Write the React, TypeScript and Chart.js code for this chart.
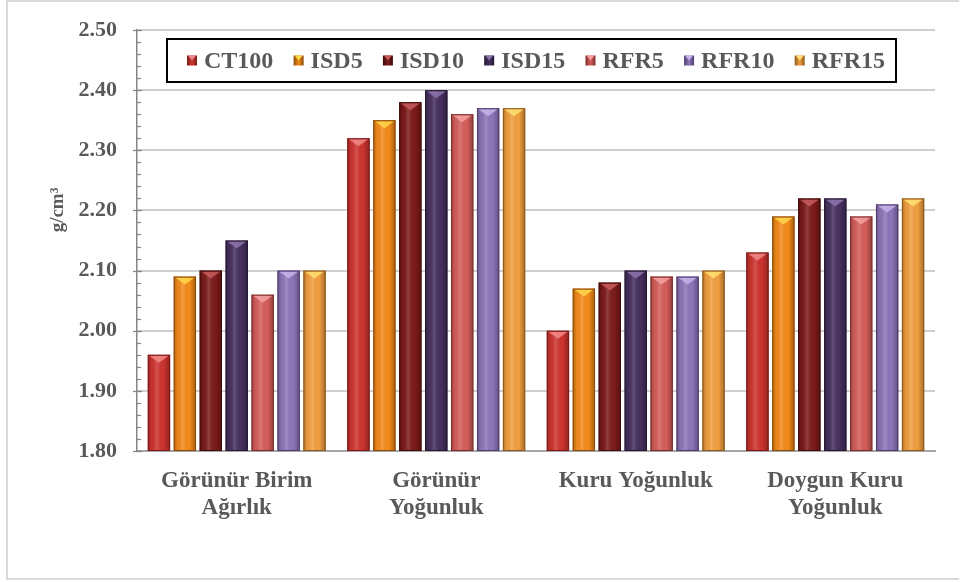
import React, { useEffect, useRef } from "react";
import { Chart, registerables } from "chart.js";

Chart.register(...registerables);

// Category labels (multi-line)
const categories: string[][] = [
  ["Görünür Birim", "Ağırlık"],
  ["Görünür", "Yoğunluk"],
  ["Kuru Yoğunluk"],
  ["Doygun Kuru", "Yoğunluk"],
];

const seriesNames = ["CT100", "ISD5", "ISD10", "ISD15", "RFR5", "RFR10", "RFR15"];

// Density values, g/cm³
const ct100 = [1.96, 2.32, 2.0, 2.13];
const isd5 = [2.09, 2.35, 2.07, 2.19];
const isd10 = [2.1, 2.38, 2.08, 2.22];
const isd15 = [2.15, 2.4, 2.1, 2.22];
const rfr5 = [2.06, 2.36, 2.09, 2.19];
const rfr10 = [2.1, 2.37, 2.09, 2.21];
const rfr15 = [2.1, 2.37, 2.1, 2.22];

const seriesValues = [ct100, isd5, isd10, isd15, rfr5, rfr10, rfr15];

const yMin = 1.8;
const yMax = 2.5;
const yStep = 0.1;
const yMinorStep = 0.02;
const yAxisTitle = "g/cm³";

// Bar fills, bevel highlights and edge colours
const barColors = ["#cf342f", "#f58c1a", "#7d1b1b", "#47305f", "#d65e5b", "#8f75ba", "#f4a040"];
const topColors = ["#f08a8a", "#ffd84a", "#c85a5a", "#8d74ad", "#f6a0a0", "#c9b3ea", "#ffe070"];
const edgeColors = ["#7a1a18", "#8a4a0a", "#3e0c0c", "#241832", "#7d2e2c", "#4e3d6e", "#8a5a1e"];

const textColor = "#595959";
const fontFamily = "'Liberation Serif', 'Times New Roman', serif";

const bevelPlugin = {
  id: "bevel",
  afterDatasetsDraw(chart: any) {
    const ctx = chart.ctx as CanvasRenderingContext2D;
    const bottom = chart.chartArea.bottom;
    chart.data.datasets.forEach((_ds: any, di: number) => {
      const meta = chart.getDatasetMeta(di);
      meta.data.forEach((bar: any) => {
        const x = bar.x;
        const y = bar.y;
        const width = bar.width;
        const base = Math.min(bar.base, bottom);
        const left = x - width / 2;
        const right = x + width / 2;
        const h = base - y;
        if (h <= 0) return;
        ctx.save();
        // cylindrical shading across the bar
        const g = ctx.createLinearGradient(left, 0, right, 0);
        g.addColorStop(0, "rgba(0,0,0,0.28)");
        g.addColorStop(0.18, "rgba(0,0,0,0.04)");
        g.addColorStop(0.4, "rgba(255,255,255,0.16)");
        g.addColorStop(0.7, "rgba(0,0,0,0.0)");
        g.addColorStop(1, "rgba(0,0,0,0.32)");
        ctx.fillStyle = g;
        ctx.fillRect(left, y, width, h);
        // bevelled top
        const tri = Math.min(8, h);
        ctx.beginPath();
        ctx.moveTo(left + 1.5, y + 1);
        ctx.lineTo(right - 1.5, y + 1);
        ctx.lineTo(x, y + tri);
        ctx.closePath();
        ctx.fillStyle = topColors[di];
        ctx.globalAlpha = 0.85;
        ctx.fill();
        ctx.globalAlpha = 1;
        // outline
        ctx.strokeStyle = edgeColors[di];
        ctx.lineWidth = 1;
        ctx.strokeRect(left + 0.5, y + 0.5, width - 1, h - 1);
        ctx.restore();
      });
    });
  },
};

const decorPlugin = {
  id: "decor",
  afterDraw(chart: any) {
    const ctx = chart.ctx as CanvasRenderingContext2D;
    const yScale = chart.scales.y;
    const axisX = chart.chartArea.left;
    ctx.save();
    // minor ticks inside the value axis
    ctx.strokeStyle = "#868686";
    ctx.lineWidth = 1.2;
    const n = Math.round((yMax - yMin) / yMinorStep);
    for (let i = 0; i <= n; i++) {
      const v = yMin + i * yMinorStep;
      const py = Math.round(yScale.getPixelForValue(v)) + 0.5;
      ctx.beginPath();
      ctx.moveTo(axisX, py);
      ctx.lineTo(axisX + 4, py);
      ctx.stroke();
    }
    // major ticks cross the axis
    const m = Math.round((yMax - yMin) / yStep);
    for (let i = 0; i <= m; i++) {
      const v = yMin + i * yStep;
      const py = Math.round(yScale.getPixelForValue(v)) + 0.5;
      ctx.beginPath();
      ctx.moveTo(axisX - 4, py);
      ctx.lineTo(axisX + 5, py);
      ctx.stroke();
    }

    // value axis title
    ctx.save();
    ctx.translate(58, 210);
    ctx.rotate(-Math.PI / 2);
    ctx.font = `bold 19px ${fontFamily}`;
    ctx.fillStyle = textColor;
    ctx.textAlign = "center";
    ctx.textBaseline = "middle";
    ctx.fillText(yAxisTitle, 0, 0);
    ctx.restore();

    // legend box
    const boxL = 167;
    const boxT = 39;
    const boxR = 896;
    const boxB = 82;
    ctx.fillStyle = "#ffffff";
    ctx.fillRect(boxL, boxT, boxR - boxL, boxB - boxT);
    ctx.strokeStyle = "#000000";
    ctx.lineWidth = 2;
    ctx.strokeRect(boxL, boxT, boxR - boxL, boxB - boxT);

    ctx.font = `bold 24px ${fontFamily}`;
    ctx.textBaseline = "middle";
    const marker = 10;
    const gap = 7;
    const widths = seriesNames.map((s) => ctx.measureText(s).width);
    const startX = 187;
    const endX = 885;
    const used = widths.reduce((a, w) => a + marker + gap + w, 0);
    const spacing = (endX - startX - used) / (seriesNames.length - 1);
    let cx = startX;
    const cy = (boxT + boxB) / 2 + 1;
    seriesNames.forEach((name, i) => {
      const mg = ctx.createLinearGradient(cx, 0, cx + marker, 0);
      mg.addColorStop(0, edgeColors[i]);
      mg.addColorStop(0.5, barColors[i]);
      mg.addColorStop(1, edgeColors[i]);
      ctx.fillStyle = mg;
      ctx.fillRect(cx, cy - marker / 2 - 1, marker, marker);
      ctx.fillStyle = topColors[i];
      ctx.beginPath();
      ctx.moveTo(cx + 1, cy - marker / 2 - 1);
      ctx.lineTo(cx + marker - 1, cy - marker / 2 - 1);
      ctx.lineTo(cx + marker / 2, cy - 1);
      ctx.closePath();
      ctx.fill();
      ctx.fillStyle = textColor;
      ctx.textAlign = "left";
      ctx.fillText(name, cx + marker + gap, cy);
      cx += marker + gap + widths[i] + spacing;
    });

    // outer frame
    ctx.strokeStyle = "#d9d9d9";
    ctx.lineWidth = 2;
    ctx.beginPath();
    ctx.moveTo(959, 1);
    ctx.lineTo(7, 1);
    ctx.lineTo(7, 579);
    ctx.lineTo(959, 579);
    ctx.stroke();
    ctx.restore();
  },
};

export default function App() {
  const canvasRef = useRef<HTMLCanvasElement | null>(null);

  useEffect(() => {
    document.body.style.margin = "0";
    const canvas = canvasRef.current;
    if (!canvas) return;
    const chart = new Chart(canvas, {
      type: "bar",
      data: {
        labels: categories,
        datasets: seriesNames.map((name, i) => ({
          label: name,
          data: seriesValues[i],
          backgroundColor: barColors[i],
          borderWidth: 0,
          categoryPercentage: 0.91,
          barPercentage: 0.86,
        })),
      },
      options: {
        responsive: false,
        animation: false,
        devicePixelRatio: 1,
        layout: { padding: { top: 30, right: 25, left: 0, bottom: 0 } },
        plugins: {
          legend: { display: false },
          tooltip: { enabled: false },
        },
        scales: {
          x: {
            grid: { display: false },
            border: { display: true, color: "#a6a6a6", width: 2 },
            ticks: {
              color: textColor,
              font: { family: fontFamily, size: 23, weight: "bold", lineHeight: 1.17 },
              padding: 9,
              maxRotation: 0,
              autoSkip: false,
            },
            afterFit(scale: any) {
              scale.height = 131;
            },
          },
          y: {
            min: yMin,
            max: yMax,
            ticks: {
              stepSize: yStep,
              color: textColor,
              font: { family: fontFamily, size: 22, weight: "bold" },
              padding: 14,
              callback: (v: any) => Number(v).toFixed(2),
            },
            grid: {
              color: "#d0d0d0",
              lineWidth: 2,
              drawTicks: true,
              tickLength: 6,
              tickColor: "rgba(0,0,0,0)",
            },
            border: { display: true, color: "#868686", width: 1.5 },
            afterFit(scale: any) {
              scale.width = 137;
            },
          },
        },
      },
      plugins: [bevelPlugin, decorPlugin],
    });
    return () => chart.destroy();
  }, []);

  return (
    <div style={{ position: "fixed", left: 0, top: 0, width: 960, height: 582, background: "#ffffff" }}>
      <canvas ref={canvasRef} width={960} height={582} style={{ display: "block" }} />
    </div>
  );
}
